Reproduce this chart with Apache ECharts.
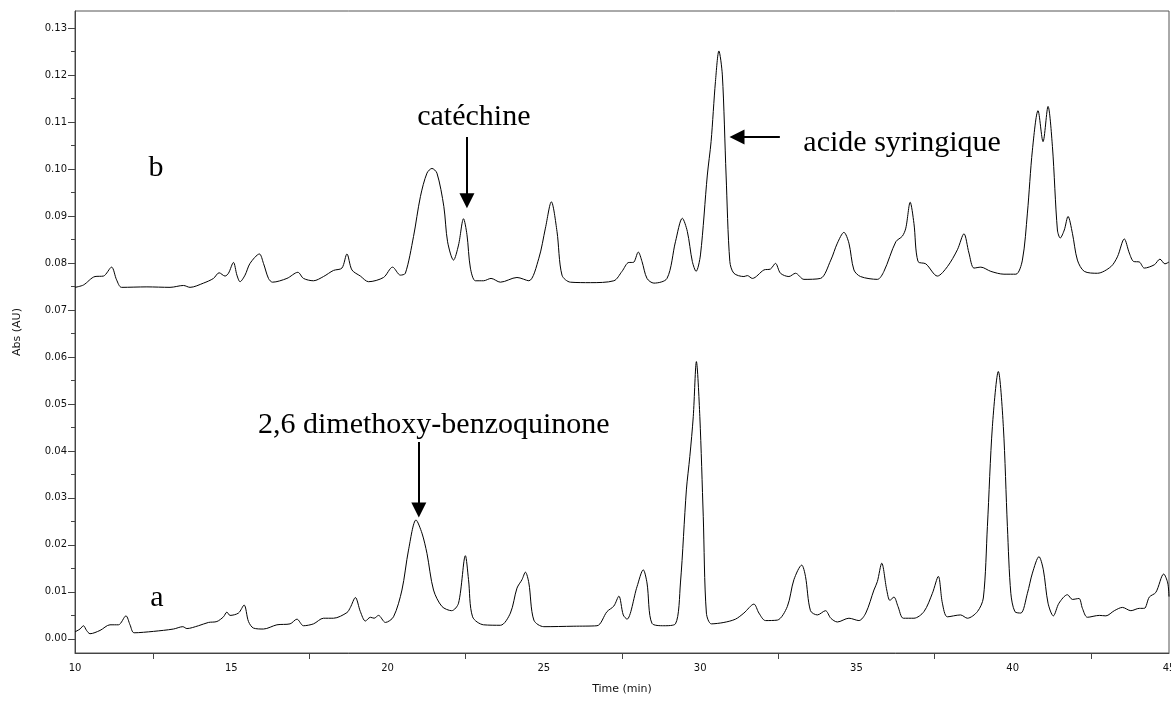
<!DOCTYPE html>
<html>
<head>
<meta charset="utf-8">
<script src="https://cdn.jsdelivr.net/npm/echarts@6/dist/echarts.min.js"></script>
<style>
  html, body { margin: 0; padding: 0; background: #fff; }
  #chart { width: 1171px; height: 704px; }
</style>
</head>
<body>
<div id="chart"></div>
<script>
// chromatogram b (upper trace): [time (min), absorbance (AU)]
var traceB = [
  [10.00,0.0748],[10.27,0.0753],[10.64,0.0771],[10.91,0.0772],[11.17,0.0791],[11.33,0.0764],[11.49,0.0748],
  [12.30,0.0749],[13.04,0.0748],[13.47,0.0752],[13.68,0.0748],[14.11,0.0757],[14.43,0.0767],[14.61,0.0779],
  [14.80,0.0772],[14.91,0.0778],[15.07,0.0801],[15.18,0.0774],[15.28,0.0760],[15.44,0.0774],[15.60,0.0799],
  [15.90,0.0819],[16.03,0.0799],[16.19,0.0767],[16.32,0.0759],[16.78,0.0767],[17.13,0.0780],[17.31,0.0767],
  [17.63,0.0762],[17.95,0.0771],[18.27,0.0784],[18.54,0.0789],[18.70,0.0819],[18.86,0.0785],[19.13,0.0772],
  [19.39,0.0760],[19.87,0.0769],[20.16,0.0791],[20.41,0.0774],[20.57,0.0778],[20.83,0.0856],[21.05,0.0941],
  [21.26,0.0991],[21.42,0.1001],[21.58,0.0991],[21.80,0.0920],[21.92,0.0845],[22.11,0.0806],[22.27,0.0838],
  [22.43,0.0894],[22.54,0.0860],[22.65,0.0789],[22.81,0.0762],[23.07,0.0762],[23.31,0.0767],[23.61,0.0759],
  [24.14,0.0769],[24.52,0.0762],[24.84,0.0810],[25.05,0.0874],[25.24,0.0930],[25.42,0.0867],[25.58,0.0774],
  [25.85,0.0759],[26.49,0.0758],[27.24,0.0762],[27.50,0.0782],[27.72,0.0801],[27.86,0.0801],[28.02,0.0823],
  [28.14,0.0803],[28.30,0.0767],[28.52,0.0757],[28.94,0.0767],[29.21,0.0845],[29.43,0.0895],[29.59,0.0867],
  [29.75,0.0803],[29.87,0.0782],[30.01,0.0817],[30.23,0.0987],[30.35,0.1058],[30.49,0.1186],[30.60,0.1251],
  [30.71,0.1200],[30.83,0.0987],[30.95,0.0803],[31.08,0.0778],[31.40,0.0771],[31.51,0.0773],[31.67,0.0767],
  [32.04,0.0785],[32.25,0.0787],[32.41,0.0799],[32.57,0.0778],[32.84,0.0771],[33.05,0.0778],[33.32,0.0765],
  [33.85,0.0767],[34.18,0.0806],[34.39,0.0842],[34.60,0.0865],[34.76,0.0842],[34.92,0.0785],[35.13,0.0771],
  [35.67,0.0765],[35.88,0.0782],[36.26,0.0845],[36.47,0.0857],[36.58,0.0874],[36.72,0.0929],[36.84,0.0884],
  [36.97,0.0803],[37.22,0.0798],[37.59,0.0772],[37.91,0.0792],[38.23,0.0828],[38.44,0.0862],[38.60,0.0821],
  [38.76,0.0789],[38.98,0.0791],[39.30,0.0782],[39.72,0.0776],[40.10,0.0776],[40.31,0.0806],[40.47,0.0906],
  [40.63,0.1040],[40.81,0.1124],[40.97,0.1058],[41.13,0.1133],[41.27,0.1048],[41.43,0.0870],[41.52,0.0853],
  [41.65,0.0870],[41.77,0.0899],[41.91,0.0863],[42.07,0.0806],[42.29,0.0782],[42.71,0.0778],[43.14,0.0792],
  [43.35,0.0813],[43.57,0.0851],[43.73,0.0821],[43.87,0.0803],[44.05,0.0802],[44.21,0.0789],[44.53,0.0796],
  [44.71,0.0808],[44.87,0.0798],[45.00,0.0802]
];

// chromatogram a (lower trace)
var traceA = [
  [10.00,0.0015],[10.16,0.0021],[10.27,0.0028],[10.37,0.0018],[10.48,0.0011],[10.80,0.0018],[11.12,0.0030],
  [11.39,0.0030],[11.63,0.0049],[11.76,0.0030],[11.89,0.0013],[12.51,0.0016],[13.15,0.0021],[13.45,0.0026],
  [13.58,0.0022],[13.95,0.0028],[14.27,0.0035],[14.54,0.0037],[14.75,0.0047],[14.86,0.0057],[14.96,0.0050],
  [15.23,0.0055],[15.41,0.0072],[15.55,0.0037],[15.71,0.0023],[16.03,0.0021],[16.46,0.0030],[16.88,0.0032],
  [17.10,0.0042],[17.31,0.0028],[17.63,0.0032],[17.95,0.0044],[18.27,0.0044],[18.70,0.0056],[18.81,0.0067],
  [18.97,0.0088],[19.13,0.0058],[19.29,0.0038],[19.45,0.0046],[19.57,0.0044],[19.71,0.0050],[19.93,0.0035],
  [20.19,0.0047],[20.46,0.0104],[20.67,0.0189],[20.91,0.0253],[21.10,0.0225],[21.26,0.0182],[21.47,0.0104],
  [21.74,0.0069],[22.05,0.0060],[22.27,0.0076],[22.49,0.0177],[22.59,0.0126],[22.72,0.0047],[23.07,0.0030],
  [23.61,0.0029],[23.93,0.0055],[24.14,0.0108],[24.30,0.0126],[24.41,0.0142],[24.52,0.0119],[24.68,0.0040],
  [25.00,0.0026],[25.96,0.0027],[26.70,0.0028],[27.02,0.0058],[27.24,0.0070],[27.40,0.0091],[27.54,0.0051],
  [27.66,0.0042],[27.98,0.0111],[28.18,0.0147],[28.30,0.0119],[28.46,0.0033],[28.84,0.0028],[29.21,0.0032],
  [29.37,0.0119],[29.56,0.0317],[29.67,0.0388],[29.78,0.0473],[29.88,0.0590],[29.99,0.0473],[30.10,0.0260],
  [30.20,0.0055],[30.36,0.0032],[30.76,0.0035],[31.13,0.0042],[31.40,0.0055],[31.72,0.0074],[31.88,0.0055],
  [32.09,0.0039],[32.47,0.0040],[32.79,0.0069],[33.00,0.0126],[33.25,0.0157],[33.37,0.0133],[33.53,0.0060],
  [33.75,0.0051],[34.01,0.0060],[34.18,0.0044],[34.39,0.0036],[34.76,0.0044],[35.08,0.0039],[35.30,0.0055],
  [35.56,0.0104],[35.67,0.0122],[35.81,0.0161],[35.97,0.0104],[36.07,0.0082],[36.20,0.0089],[36.33,0.0069],
  [36.50,0.0044],[36.84,0.0044],[37.16,0.0058],[37.43,0.0097],[37.62,0.0133],[37.75,0.0076],[37.91,0.0047],
  [38.33,0.0051],[38.55,0.0044],[38.87,0.0058],[39.06,0.0087],[39.19,0.0239],[39.35,0.0452],[39.54,0.0569],
  [39.70,0.0452],[39.83,0.0239],[39.94,0.0097],[40.07,0.0058],[40.26,0.0055],[40.47,0.0097],[40.63,0.0140],
  [40.84,0.0175],[40.98,0.0147],[41.13,0.0076],[41.30,0.0049],[41.48,0.0076],[41.75,0.0094],[41.91,0.0084],
  [42.12,0.0086],[42.23,0.0065],[42.39,0.0046],[42.77,0.0050],[42.98,0.0049],[43.25,0.0060],[43.51,0.0067],
  [43.78,0.0060],[44.05,0.0065],[44.21,0.0065],[44.37,0.0089],[44.58,0.0099],[44.83,0.0138],[44.96,0.0119],
  [45.00,0.0090]
];

// tick labels
var yLabels = [0, 0.01, 0.02, 0.03, 0.04, 0.05, 0.06, 0.07, 0.08, 0.09, 0.10, 0.11, 0.12, 0.13];
var yMinor = [0.005, 0.015, 0.025, 0.035, 0.045, 0.055, 0.065, 0.075, 0.085, 0.095, 0.105, 0.115, 0.125];
var xTicks = [12.5, 17.5, 22.5, 27.5, 32.5, 37.5, 42.5];

// annotation texts and arrows, in data coordinates
var notes = [
  { name: 'b', coord: [12.59, 0.1002] },
  { name: 'a', coord: [12.62, 0.0087] },
  { name: 'catéchine', coord: [22.76, 0.1111] },
  { name: 'acide syringique', coord: [36.46, 0.1055] },
  { name: '2,6 dimethoxy-benzoquinone', coord: [21.48, 0.0455] }
];
var arrows = [
  [[22.54, 0.1068], [22.54, 0.0932]],
  [[32.55, 0.1068], [31.18, 0.1068]],
  [[21.00, 0.0419], [21.00, 0.0274]]
];

var chart = echarts.init(document.getElementById('chart'));

var axisFont = { fontFamily: 'DejaVu Sans', fontSize: 10, color: '#111' };

var option = {
  animation: false,
  grid: {
    left: 75, right: 2, top: 11, bottom: 51,
    outerBoundsMode: 'none',
    containLabel: false,
    show: true, borderColor: '#555', borderWidth: 1
  },
  xAxis: {
    type: 'value',
    min: 10, max: 45, interval: 5,
    name: 'Time (min)',
    nameLocation: 'middle',
    nameGap: 31,
    nameTextStyle: { fontFamily: 'DejaVu Sans', fontSize: 11, color: '#111' },
    axisLine: { onZero: false, lineStyle: { color: '#444' } },
    axisTick: { show: true, customValues: xTicks, length: 6, lineStyle: { color: '#444' } },
    axisLabel: Object.assign({ margin: 10, showMaxLabel: true }, axisFont),
    splitLine: { show: false }
  },
  yAxis: [{
    type: 'value',
    min: -0.003, max: 0.1336,
    name: 'Abs (AU)',
    nameLocation: 'middle',
    nameGap: 52,
    nameTextStyle: { fontFamily: 'DejaVu Sans', fontSize: 11, color: '#111' },
    axisLine: { show: true, onZero: false, lineStyle: { color: '#444' } },
    axisTick: { show: true, customValues: yLabels, length: 7, lineStyle: { color: '#444' } },
    axisLabel: Object.assign({
      customValues: yLabels, margin: 8,
      formatter: function (v) { return v.toFixed(2); }
    }, axisFont),
    splitLine: { show: false }
  }, {
    // minor ticks only
    type: 'value',
    min: -0.003, max: 0.1336,
    position: 'left',
    axisLine: { show: false, onZero: false },
    axisTick: { show: true, customValues: yMinor, length: 4, lineStyle: { color: '#444' } },
    axisLabel: { show: false },
    splitLine: { show: false }
  }],
  series: [{
    name: 'b',
    type: 'line',
    data: traceB,
    showSymbol: false,
    smooth: 0.3,
    lineStyle: { color: '#000', width: 1 },
    markPoint: {
      silent: true,
      symbol: 'rect',
      symbolSize: 1,
      itemStyle: { color: 'transparent' },
      label: {
        show: true, position: 'inside',
        formatter: '{b}',
        fontFamily: 'Liberation Serif', fontSize: 30, color: '#000'
      },
      data: notes
    },
    markLine: {
      silent: true,
      symbol: ['none', 'triangle'],
      symbolSize: [15, 15],
      label: { show: false },
      lineStyle: { color: '#000', width: 2, type: 'solid' },
      data: arrows.map(function (a) { return [{ coord: a[0] }, { coord: a[1] }]; })
    }
  }, {
    name: 'a',
    type: 'line',
    data: traceA,
    showSymbol: false,
    smooth: 0.3,
    lineStyle: { color: '#000', width: 1 }
  }]
};

chart.setOption(option);
</script>
</body>
</html>
